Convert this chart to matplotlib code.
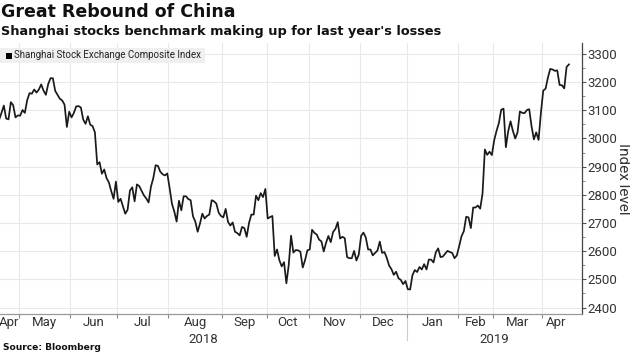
import numpy as np
import matplotlib.pyplot as plt
from matplotlib.patches import Rectangle
from matplotlib.ticker import FixedLocator, NullFormatter

# Shanghai Composite daily closes, one list per month (trading days only)
apr18 = [3067, 3091, 3117, 3071, 3068, 3129, 3118, 3075, 3082]
may18 = [3081, 3101, 3091, 3136, 3161, 3159, 3174, 3163, 3174, 3192, 3170,
         3155, 3193, 3214, 3214, 3169, 3155, 3141, 3135, 3120, 3041, 3095]
jun18 = [3075, 3091, 3114, 3115, 3110, 3067, 3052, 3079, 3049, 3044,
         3022, 2908, 2916, 2875, 2890, 2859, 2844, 2813, 2786, 2847]
jul18 = [2775, 2786, 2759, 2733, 2747, 2815, 2827, 2777, 2837, 2831, 2814,
         2798, 2787, 2773, 2829, 2859, 2905, 2903, 2882, 2873, 2869, 2876]
aug18 = [2824, 2768, 2741, 2705, 2779, 2745, 2795, 2795, 2785, 2781, 2724, 2705,
         2669, 2698, 2733, 2716, 2725, 2730, 2781, 2777, 2769, 2737, 2725]
sep18 = [2720, 2750, 2704, 2691, 2702, 2669, 2664, 2656, 2686, 2682,
         2651, 2700, 2730, 2730, 2797, 2781, 2806, 2792, 2821]
oct18 = [2716, 2721, 2725, 2583, 2606, 2568, 2546, 2561, 2486,
         2550, 2655, 2595, 2604, 2603, 2598, 2542, 2568, 2603]
nov18 = [2606, 2676, 2665, 2659, 2641, 2635, 2599, 2630, 2654, 2632, 2668,
         2679, 2703, 2645, 2651, 2646, 2579, 2575, 2575, 2601, 2567, 2588]
dec18 = [2654, 2666, 2649, 2606, 2606, 2585, 2594, 2602, 2634, 2594,
         2597, 2576, 2549, 2536, 2516, 2527, 2504, 2498, 2483, 2494]
jan19 = [2465, 2464, 2515, 2533, 2526, 2544, 2535, 2554, 2535, 2570, 2570,
         2560, 2596, 2610, 2579, 2581, 2591, 2601, 2597, 2594, 2575, 2585]
feb19 = [2618, 2653, 2671, 2722, 2720, 2682, 2755, 2755, 2762, 2751,
         2804, 2961, 2942, 2953, 2941]
mar19 = [2994, 3027, 3055, 3102, 3106, 2969, 3026, 3061, 3027, 3000, 3022,
         3096, 3091, 3090, 3101, 3104, 3043, 2997, 3022, 2995, 3091]
apr19 = [3170, 3177, 3216, 3247, 3245, 3240, 3242, 3190, 3189, 3178, 3254, 3263]

months = [apr18, may18, jun18, jul18, aug18, sep18, oct18,
          nov18, dec18, jan19, feb19, mar19, apr19]
month_labels = ["Apr", "May", "Jun", "Jul", "Aug", "Sep", "Oct",
                "Nov", "Dec", "Jan", "Feb", "Mar", "Apr"]
years = ["2018", "2019"]
y_ticks = [2400, 2500, 2600, 2700, 2800, 2900, 3000, 3100, 3200, 3300]

values = np.concatenate(months)
idx = np.arange(len(values))
lengths = [len(m) for m in months]
starts = np.concatenate([[0], np.cumsum(lengths)[:-1]])
bounds = starts[1:] - 0.5  # month boundaries sit between trading days

XMIN, XMAX = 0.36, 249.6
TXT = "#333333"
NARROW = ["Liberation Sans Narrow", "Roboto", "DejaVu Sans"]

fig = plt.figure(figsize=(6.3, 3.54), dpi=100)
ax = fig.add_axes([0, 40 / 354, 582 / 630, 271 / 354])

ax.plot(idx, values, color="#1a1a1a", linewidth=1.25, solid_joinstyle="round", zorder=3)
ax.set_xlim(XMIN, XMAX)
ax.set_ylim(2377, 3339)

# y axis on the right
ax.yaxis.tick_right()
ax.set_yticks(y_ticks)
ax.yaxis.set_minor_locator(FixedLocator([v + 50 for v in y_ticks[:-1]]))
ax.tick_params(axis="y", which="major", length=3, width=0.8, color="#555555",
               labelsize=9.5, labelcolor=TXT, pad=1)
ax.tick_params(axis="y", which="minor", length=2, width=0.6, color="#777777")
for lab in ax.get_yticklabels():
    lab.set_family(NARROW)

# x axis: boundary ticks + centred month labels
ax.set_xticks(bounds)
ax.xaxis.set_major_formatter(NullFormatter())
centers = []
for s, n in zip(starts, lengths):
    lo = max(s - 0.5, XMIN)
    hi = min(s + n - 0.5, XMAX)
    centers.append((lo + hi) / 2)
ax.set_xticks(centers, minor=True)
ax.set_xticklabels(month_labels, minor=True)
ax.tick_params(axis="x", which="major", length=3, width=0.8, color="#888888")
ax.tick_params(axis="x", which="minor", length=0, labelsize=9.5, labelcolor=TXT, pad=1.5)
for lab in ax.get_xticklabels(minor=True):
    lab.set_family(NARROW)

ax.grid(True, which="major", color="#e9e9e9", linewidth=0.8, zorder=0)
for side in ["left", "top"]:
    ax.spines[side].set_visible(False)
ax.spines["right"].set_color("#444444")
ax.spines["bottom"].set_color("#999999")
ax.spines["right"].set_linewidth(0.9)
ax.spines["bottom"].set_linewidth(0.9)

# year labels and separator
jan_idx = starts[month_labels.index("Jan")] - 0.5
trans = ax.get_xaxis_transform()
ax.text((XMIN + jan_idx) / 2, -0.095, years[0], transform=trans, ha="center",
        va="center", fontsize=9.5, color=TXT, family=NARROW)
ax.text((jan_idx + XMAX) / 2, -0.095, years[1], transform=trans, ha="center",
        va="center", fontsize=9.5, color=TXT, family=NARROW)
ax.plot([jan_idx, jan_idx], [-0.015, -0.095], transform=trans, color="#cccccc",
        linewidth=0.8, clip_on=False)

ax.text(1.07, 0.5, "Index level", transform=ax.transAxes, rotation=270,
        ha="center", va="center", fontsize=11, color=TXT, family=NARROW)

# titles
fig.text(0.002, 1 - 12 / 354, "Great Rebound of China", fontsize=12.5, fontweight="bold",
         family="DejaVu Sans", ha="left", va="center", color="#111111")
fig.text(0.002, 1 - 31 / 354, "Shanghai stocks benchmark making up for last year's losses",
         fontsize=9.3, fontweight="bold", family="DejaVu Sans", ha="left", va="center",
         color="#111111")

# legend box
fig.patches.append(Rectangle((0, 1 - 63 / 354), 205 / 630, 15 / 354,
                             transform=fig.transFigure, facecolor="#efefef",
                             edgecolor="none", zorder=5))
fig.patches.append(Rectangle((6 / 630, 1 - 58.5 / 354), 6 / 630, 6 / 354,
                             transform=fig.transFigure, facecolor="#000000",
                             edgecolor="none", zorder=6))
fig.text(14 / 630, 1 - 55.5 / 354, "Shanghai Stock Exchange Composite Index",
         fontsize=7.0, family=NARROW, ha="left", va="center", color="#222222", zorder=7)

fig.text(0.004, 1 - 348 / 354, "Source: Bloomberg", fontsize=6.6, fontweight="bold",
         family="DejaVu Sans", ha="left", va="center", color="#111111")

fig.savefig("out.png", dpi=100)
